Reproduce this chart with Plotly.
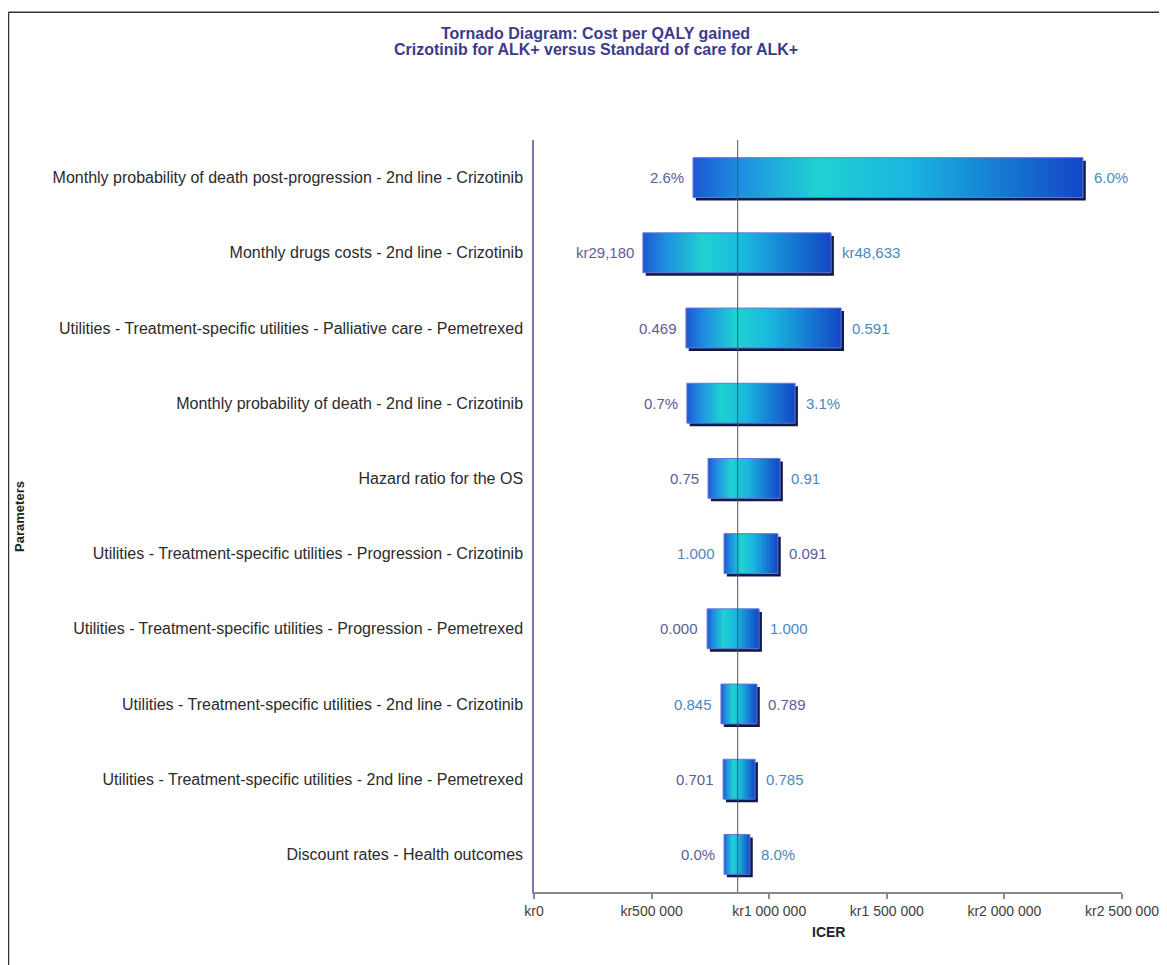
import plotly.graph_objects as go

# ---------------- data ----------------
parameters = [
    "Monthly probability of death post-progression - 2nd line - Crizotinib",
    "Monthly drugs costs - 2nd line - Crizotinib",
    "Utilities - Treatment-specific utilities - Palliative care - Pemetrexed",
    "Monthly probability of death - 2nd line - Crizotinib",
    "Hazard ratio for the OS",
    "Utilities - Treatment-specific utilities - Progression - Crizotinib",
    "Utilities - Treatment-specific utilities - Progression - Pemetrexed",
    "Utilities - Treatment-specific utilities - 2nd line - Crizotinib",
    "Utilities - Treatment-specific utilities - 2nd line - Pemetrexed",
    "Discount rates - Health outcomes",
]
icer_low = [676000, 463000, 646000, 650000, 740000, 808000, 736000, 795000, 804000, 808000]
icer_high = [2334000, 1263000, 1306000, 1110000, 1046000, 1037000, 957000, 948000, 940000, 918000]
left_labels = ["2.6%", "kr29,180", "0.469", "0.7%", "0.75", "1.000", "0.000", "0.845", "0.701", "0.0%"]
right_labels = ["6.0%", "kr48,633", "0.591", "3.1%", "0.91", "0.091", "1.000", "0.789", "0.785", "8.0%"]
left_is_high_value = [False, False, False, False, False, True, False, True, False, False]
base_icer = 866000
tick_values = [0, 500000, 1000000, 1500000, 2000000, 2500000]
tick_labels = ["kr0", "kr500 000", "kr1 000 000", "kr1 500 000", "kr2 000 000", "kr2 500 000"]

# ---------------- styling ----------------
LOW_COL = "#5c5c9e"
HIGH_COL = "#4a88c0"
BAR_H = 0.53
SH_DX = 12000
SH_DY = 0.04
FONT = "Liberation Sans, Arial, sans-serif"

fig = go.Figure()

for i, (lo, hi) in enumerate(zip(icer_low, icer_high)):
    y0, y1 = i - BAR_H / 2, i + BAR_H / 2
    # shadow
    fig.add_trace(go.Scatter(
        x=[lo + SH_DX, hi + SH_DX, hi + SH_DX, lo + SH_DX, lo + SH_DX],
        y=[y0 + SH_DY, y0 + SH_DY, y1 + SH_DY, y1 + SH_DY, y0 + SH_DY],
        fill="toself", fillcolor="#0e1a48", mode="lines",
        line=dict(width=0, color="#0e1a48"), hoverinfo="skip", showlegend=False))
    # bar
    fig.add_trace(go.Scatter(
        x=[lo, hi, hi, lo, lo], y=[y0, y0, y1, y1, y0],
        fill="toself", mode="lines",
        fillgradient=dict(type="horizontal", colorscale=[
            [0.0, "#1c58d4"], [0.12, "#1f8ee0"], [0.32, "#1fd2d2"],
            [0.55, "#1ab6e0"], [1.0, "#1346c6"]]),
        line=dict(width=1, color="#6a74d6"),
        hovertemplate=parameters[i] + "<br>%{x:,.0f}<extra></extra>", showlegend=False))

annotations = []
for i in range(len(parameters)):
    lc = HIGH_COL if left_is_high_value[i] else LOW_COL
    rc = LOW_COL if left_is_high_value[i] else HIGH_COL
    annotations.append(dict(x=icer_low[i], y=i, xref="x", yref="y", text=left_labels[i],
                            showarrow=False, xanchor="right", yanchor="middle", xshift=-7,
                            font=dict(family=FONT, size=15, color=lc)))
    annotations.append(dict(x=icer_high[i], y=i, xref="x", yref="y", text=right_labels[i],
                            showarrow=False, xanchor="left", yanchor="middle", xshift=9,
                            font=dict(family=FONT, size=15, color=rc)))

TITLE_COL = "#3b3b8c"
annotations += [
    dict(x=0.1054, y=1.141, xref="paper", yref="paper", showarrow=False,
         text="<b>Tornado Diagram: Cost per QALY gained</b>", xanchor="center", yanchor="middle",
         font=dict(family=FONT, size=16, color=TITLE_COL)),
    dict(x=0.1054, y=1.120, xref="paper", yref="paper", showarrow=False,
         text="<b>Crizotinib for ALK+ versus Standard of care for ALK+</b>", xanchor="center",
         yanchor="middle", font=dict(family=FONT, size=16, color=TITLE_COL)),
    dict(x=-0.876, y=0.5, xref="paper", yref="paper", showarrow=False, textangle=-90,
         text="<b>Parameters</b>", xanchor="center", yanchor="middle",
         font=dict(family=FONT, size=13, color="#222222")),
    dict(x=0.5, y=-0.0532, xref="paper", yref="paper", showarrow=False,
         text="<b>ICER</b>", xanchor="center", yanchor="middle",
         font=dict(family=FONT, size=14, color="#222222")),
]

shapes = [
    dict(type="line", xref="x", yref="paper", x0=base_icer, x1=base_icer, y0=0, y1=1,
         line=dict(color="#555555", width=1), layer="above"),
    # frame of the picture (top and left edges)
    dict(type="line", xref="paper", yref="paper", x0=-0.8937, x1=1.1, y0=1.1698, y1=1.1698,
         line=dict(color="#333333", width=1.5)),
    dict(type="line", xref="paper", yref="paper", x0=-0.8937, x1=-0.8937, y0=1.1698, y1=-0.12,
         line=dict(color="#333333", width=1.5)),
]

# the page adds an 8px body margin, so the figure is shifted by 8px; compensate in the margins
fig.update_layout(
    width=1167, height=965,
    margin=dict(l=526, r=53, t=132, b=81),
    paper_bgcolor="white", plot_bgcolor="white",
    font=dict(family=FONT, size=13, color="#333333"),
    annotations=annotations, shapes=shapes,
    xaxis=dict(range=[0, 2500000], tickvals=tick_values, ticktext=tick_labels,
               showgrid=False, zeroline=False, showline=True, linecolor="#8a8a8a", linewidth=1.5,
               ticks="outside", ticklen=5, tickcolor="#8a8a8a", tickwidth=1.5,
               tickfont=dict(family=FONT, size=14, color="#404040")),
    yaxis=dict(range=[9.5, -0.5], tickvals=list(range(len(parameters))), ticktext=parameters,
               showgrid=False, zeroline=False, showline=True, linecolor="#7a7ab0", linewidth=1.5,
               ticks="", ticklabelstandoff=6,
               tickfont=dict(family=FONT, size=16, color="#2b2b2b")),
)

fig.write_html("out.html")
